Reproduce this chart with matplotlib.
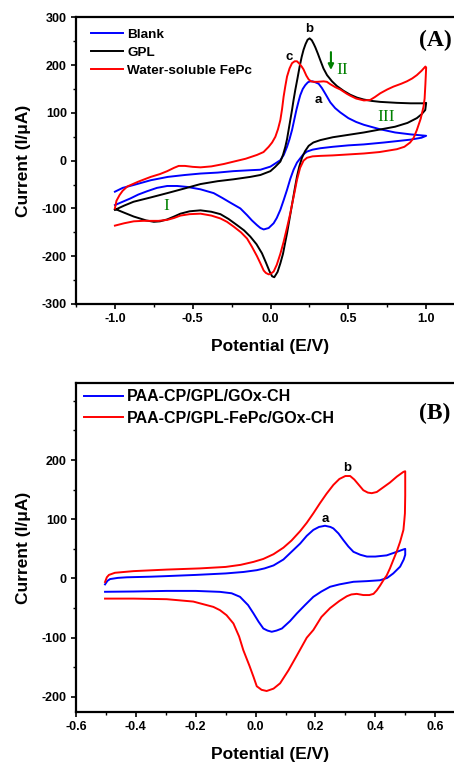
#%% libs
import matplotlib.pyplot as plt
from matplotlib.ticker import MultipleLocator

plt.rcParams['font.family'] = ['Liberation Sans', 'DejaVu Sans']
plt.rcParams['font.weight'] = 'bold'
plt.rcParams['axes.unicode_minus'] = False

#%% data panel A (potential E/V, current I/uA), read around each loop
blank_E = [-1.0, -0.95, -0.88, -0.77, -0.66, -0.55, -0.45, -0.34, -0.24, -0.13, -0.065, -0.001,
           0.03, 0.063, 0.085, 0.106, 0.122, 0.138, 0.152, 0.166, 0.18, 0.191, 0.207, 0.223,
           0.24, 0.255, 0.27, 0.288, 0.309, 0.33, 0.352, 0.384, 0.415, 0.448, 0.5, 0.55, 0.6,
           0.7, 0.8, 0.9, 1.0,
           0.97, 0.9, 0.73, 0.6, 0.5, 0.4, 0.32, 0.27, 0.234, 0.21, 0.191, 0.17, 0.148, 0.127,
           0.106, 0.085, 0.063, 0.04, 0.02, -0.012, -0.044, -0.065, -0.087, -0.12, -0.151,
           -0.194, -0.258, -0.31, -0.365, -0.45, -0.536, -0.6, -0.664, -0.73, -0.793, -0.85,
           -0.9, -0.95, -1.0]
blank_I = [-65, -57, -51, -41, -34, -30, -27, -25, -22, -20, -19, -12.5,
           -6, 1, 12, 29, 45, 64, 85, 106, 124, 137, 150, 158,
           164, 166, 166, 164, 161, 152, 140, 122, 110, 101, 89, 81, 75,
           66, 59, 55, 52,
           48, 44, 38, 34, 32, 29, 26, 23, 19, 13, 5, -4, -19, -38,
           -61, -82, -103, -120, -131, -141, -144, -141, -135, -125, -114,
           -100, -88, -78, -68, -60, -55, -53, -53, -57, -64, -71,
           -79, -86, -93]

gpl_E = [-1.0, -0.94, -0.88, -0.77, -0.664, -0.55, -0.45, -0.34, -0.237, -0.13, -0.065, -0.001,
         0.03, 0.063, 0.08, 0.095, 0.106, 0.116, 0.127, 0.138, 0.148, 0.159, 0.173, 0.187, 0.2,
         0.212, 0.225, 0.238, 0.251, 0.265, 0.278, 0.288, 0.304, 0.32, 0.34, 0.363, 0.395,
         0.427, 0.47, 0.512, 0.555, 0.598, 0.65, 0.705, 0.812, 0.9, 0.983, 1.0,
         0.994, 0.97, 0.94, 0.88, 0.8, 0.7, 0.6, 0.5, 0.4, 0.32, 0.275, 0.245, 0.222, 0.202,
         0.185, 0.17, 0.155, 0.138, 0.122, 0.106, 0.095, 0.08, 0.063, 0.045, 0.024, 0.01,
         -0.006, -0.03, -0.055, -0.09, -0.13, -0.17, -0.215, -0.27, -0.322, -0.38, -0.45,
         -0.52, -0.579, -0.62, -0.664, -0.71, -0.75, -0.8, -0.879, -0.94, -1.0]
gpl_I = [-103, -94, -86, -77, -68, -58, -49, -43, -39, -34, -30, -22,
         -13, -2, 12, 29, 45, 64, 85, 106, 127, 148, 172, 197, 217,
         232, 244, 253, 256, 252, 244, 237, 224, 210, 193, 179, 166,
         156, 146, 138, 132, 128, 125, 123, 121, 120, 120, 121,
         106, 97, 89, 79, 71, 65, 59, 54, 49, 43, 38, 31, 20, 6,
         -12, -33, -60, -92, -122, -152, -170, -195, -215, -233, -244, -242,
         -232, -213, -194, -175, -159, -146, -135, -122, -112, -107, -104,
         -106, -111, -117, -123, -127, -128, -125, -117, -109, -101]

fepc_E = [-1.0, -0.99, -0.97, -0.95, -0.92, -0.85, -0.77, -0.71, -0.664, -0.62, -0.59, -0.55,
          -0.5, -0.45, -0.38, -0.3, -0.237, -0.16, -0.087, -0.045, -0.012, 0.01, 0.031, 0.048,
          0.063, 0.074, 0.084, 0.095, 0.106, 0.122, 0.138, 0.155, 0.17, 0.185, 0.2, 0.212,
          0.23, 0.245, 0.26, 0.277, 0.3, 0.341, 0.362, 0.384, 0.415, 0.448, 0.49, 0.512, 0.55,
          0.6, 0.64, 0.67, 0.705, 0.75, 0.79, 0.84, 0.876, 0.91, 0.94, 0.97, 0.995,
          1.0, 0.995, 0.99, 0.983, 0.965, 0.94, 0.92, 0.897, 0.86, 0.812, 0.7, 0.6, 0.5, 0.4,
          0.32, 0.27, 0.234, 0.212, 0.19, 0.17, 0.155, 0.138, 0.127, 0.106, 0.084, 0.063, 0.04,
          0.02, 0.0, -0.012, -0.03, -0.044, -0.065, -0.087, -0.12, -0.151, -0.19, -0.237,
          -0.28, -0.322, -0.38, -0.45, -0.52, -0.579, -0.62, -0.664, -0.72, -0.771, -0.82,
          -0.879, -0.94, -1.0]
fepc_I = [-100, -84, -72, -63, -54, -44, -34, -28, -22, -15, -11, -11,
          -13, -14, -12, -7, -2, 4, 12, 18, 29, 38, 50, 66,
          85, 108, 134, 156, 176, 193, 204, 208, 208, 203, 197, 191,
          178, 170, 166, 165, 165, 166, 165, 160, 154, 149, 140, 136, 130,
          126, 127, 133, 141, 149, 155, 161, 166, 172, 179, 188, 197,
          195, 160, 130, 113, 88, 64, 48, 38, 29, 24, 18, 15, 13, 11,
          10, 9, 6, 0, -15, -40, -65, -92, -110, -140, -170, -195, -218,
          -232, -237, -238, -235, -230, -215, -200, -180, -163, -150, -138,
          -128, -121, -115, -111, -112, -115, -120, -124, -126, -126, -126,
          -127, -131, -136]

#%% data panel B
gox_E = [-0.503, -0.495, -0.486, -0.46, -0.43, -0.35, -0.297, -0.2, -0.1, -0.04, 0.004, 0.03,
         0.06, 0.093, 0.12, 0.149, 0.171, 0.193, 0.212, 0.232, 0.25, 0.26, 0.277, 0.293, 0.31,
         0.327, 0.35, 0.372, 0.4, 0.438, 0.472, 0.494, 0.5,
         0.5, 0.495, 0.483, 0.46, 0.44, 0.416, 0.372, 0.327, 0.28, 0.249, 0.22, 0.193, 0.165,
         0.138, 0.115, 0.088, 0.07, 0.054, 0.04, 0.026, 0.01, -0.007, -0.025, -0.052, -0.08,
         -0.119, -0.2, -0.297, -0.408, -0.503]
gox_I = [-10, -4, -1, 1, 2, 3, 4, 6, 8.5, 11, 14, 17,
         22, 32, 45, 59, 72, 82, 87, 89, 87, 84.5, 76, 65, 54,
         45, 40, 37, 37, 39, 45, 49, 50,
         40, 32, 20, 8.5, 1, -3, -4.5, -5.6, -10, -14, -22, -31, -45,
         -59, -72, -84.5, -88, -90, -88, -84.5, -73, -59, -45, -31, -25,
         -22.6, -21, -21, -22, -22.5]

fepc_gox_E = [-0.503, -0.497, -0.49, -0.47, -0.408, -0.297, -0.186, -0.1, -0.05, -0.007, 0.026,
              0.06, 0.093, 0.12, 0.149, 0.171, 0.193, 0.215, 0.237, 0.26, 0.28, 0.3, 0.316,
              0.33, 0.345, 0.36, 0.375, 0.388, 0.405, 0.427, 0.449, 0.472, 0.494, 0.5,
              0.5, 0.499, 0.497, 0.494, 0.483, 0.472, 0.46, 0.449, 0.438, 0.427, 0.416, 0.405,
              0.394, 0.38, 0.36, 0.338, 0.32, 0.305, 0.28, 0.249, 0.22, 0.193, 0.171, 0.138,
              0.11, 0.082, 0.06, 0.037, 0.02, 0.004, -0.007, -0.02, -0.041, -0.055, -0.074,
              -0.097, -0.119, -0.141, -0.208, -0.297, -0.408, -0.503]
fepc_gox_I = [-6, 2, 6, 9.6, 12.4, 15, 17, 19.5, 23, 28, 33,
              41, 52, 64, 80, 94, 110, 127, 143, 158, 168, 173, 173,
              167, 158, 149, 145, 144, 146, 154, 162, 172, 180, 181,
              140, 110, 98, 82, 62, 46, 31, 17, 5, -3, -12, -20,
              -26, -28, -28, -26, -27, -30, -38, -50, -65, -87, -100, -130,
              -155, -177, -186, -190, -188, -182, -166, -148, -121, -98, -76,
              -62, -53.5, -48, -39, -35, -34, -34]

#%% plot
fig = plt.figure(figsize=(4.54, 7.63), dpi=100)
axA = fig.add_axes([0.1674, 0.6016, 0.857, 0.3757])
axB = fig.add_axes([0.1674, 0.0672, 0.857, 0.4308])

line_kw = dict(lw=1.4, solid_joinstyle='round')
axA.plot(blank_E, blank_I, color='#0000ff', label='Blank', **line_kw)
axA.plot(gpl_E, gpl_I, color='black', label='GPL', **line_kw)
axA.plot(fepc_E, fepc_I, color='#ff0000', label='Water-soluble FePc', **line_kw)
axA.set_xlim(-1.25, 1.25)
axA.set_ylim(-300, 300)
axA.xaxis.set_major_locator(MultipleLocator(0.5))
axA.xaxis.set_minor_locator(MultipleLocator(0.25))
axA.yaxis.set_major_locator(MultipleLocator(100))
axA.yaxis.set_minor_locator(MultipleLocator(50))

axB.plot(gox_E, gox_I, color='#0000ff', label='PAA-CP/GPL/GOx-CH', **line_kw)
axB.plot(fepc_gox_E, fepc_gox_I, color='#ff0000', label='PAA-CP/GPL-FePc/GOx-CH', **line_kw)
axB.set_xlim(-0.6, 0.7)
axB.set_ylim(-225, 330)
axB.xaxis.set_major_locator(MultipleLocator(0.2))
axB.xaxis.set_minor_locator(MultipleLocator(0.1))
axB.yaxis.set_minor_locator(MultipleLocator(50))
axB.set_yticks([-200, -100, 0, 100, 200])

for ax in (axA, axB):
    for sp in ax.spines.values():
        sp.set_linewidth(1.6)
    ax.tick_params(which='major', direction='out', length=3.5, width=1.2, labelsize=9, pad=3)
    ax.tick_params(which='minor', direction='out', length=2, width=1)
    ax.set_xlabel('Potential (E/V)', fontsize=12.5, fontweight='bold', labelpad=10)
    ax.set_ylabel('Current (I/μA)', fontsize=12.5, fontweight='bold', labelpad=8)
    ax.xaxis.set_major_formatter(plt.FuncFormatter(lambda v, p: '%.1f' % v))

axA.legend(loc='upper left', frameon=False, fontsize=9.7, handlelength=2.37, handletextpad=0.3,
           labelspacing=0.4, borderaxespad=0, bbox_to_anchor=(0.025, 0.979))
axB.legend(loc='upper left', frameon=False, fontsize=11.5, handlelength=2.44, handletextpad=0.25,
           labelspacing=0.4, borderaxespad=0, bbox_to_anchor=(0.004, 1.0))

# annotations panel A
serif = ['Liberation Serif', 'DejaVu Serif']
axA.text(0.31, 127, 'a', fontsize=9.5, ha='center', va='center')
axA.text(0.247, 275, 'b', fontsize=9.5, ha='center', va='center')
axA.text(0.123, 216, 'c', fontsize=9.5, ha='center', va='center')
axA.text(-0.67, -94, 'I', fontsize=12.5, color='green', family=serif, fontweight='normal',
         ha='center', va='center')
axA.text(0.46, 190, 'II', fontsize=12.5, color='green', family=serif, fontweight='normal',
         ha='center', va='center')
axA.text(0.74, 92, 'III', fontsize=12.5, color='green', family=serif, fontweight='normal',
         ha='center', va='center')
axA.annotate('', xy=(0.388, 184), xytext=(0.388, 233),
             arrowprops=dict(arrowstyle='-|>', color='green', lw=1.5, mutation_scale=8))
axA.text(1.06, 252, '(A)', fontsize=17, family=serif, fontweight='bold', ha='center', va='center')

# annotations panel B
axB.text(0.232, 100, 'a', fontsize=9.5, ha='center', va='center')
axB.text(0.307, 186, 'b', fontsize=9.5, ha='center', va='center')
axB.text(0.6, 279, '(B)', fontsize=17, family=serif, fontweight='bold', ha='center', va='center')

plt.savefig('out.png', dpi=100)
